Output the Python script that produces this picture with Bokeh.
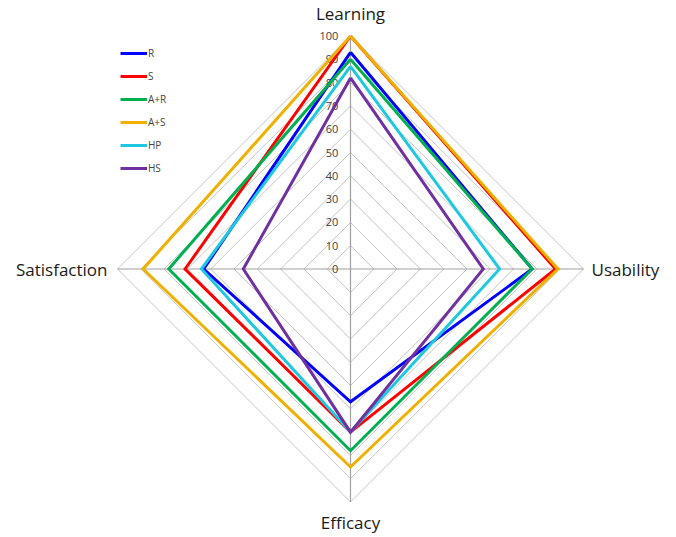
import numpy as np
from bokeh.plotting import figure
from bokeh.models import Legend, LegendItem
from bokeh.core.properties import value
from bokeh.embed import file_html
from bokeh.resources import INLINE

categories = ["Learning", "Usability", "Efficacy", "Satisfaction"]
series_names = ["R", "S", "A+R", "A+S", "HP", "HS"]
R_vals = [93, 78, 57, 63]
S_vals = [100, 88, 70, 71]
AR_vals = [90, 78, 78, 78]
AS_vals = [100, 89, 85, 89]
HP_vals = [87, 64, 70, 64]
HS_vals = [82, 57, 70, 46]
tick_values = [0, 10, 20, 30, 40, 50, 60, 70, 80, 90, 100]
colors = ["#0000ff", "#ff0000", "#00b050", "#f0b000", "#1ec8e0", "#7030a0"]

all_vals = [R_vals, S_vals, AR_vals, AS_vals, HP_vals, HS_vals]

scale = 2.33
W, H = 668, 537
cx, cy = 350, 268.5
p = figure(width=W, height=H, output_backend="svg", toolbar_location=None,
           x_range=(-cx / scale, (W - cx) / scale),
           y_range=(-(H - cy) / scale, cy / scale),
           min_border=0)
p.axis.visible = False
p.grid.visible = False
p.outline_line_color = None
p.background_fill_color = "white"

angles = np.pi / 2 - np.arange(len(categories)) * 2 * np.pi / len(categories)

def to_xy(vals):
    v = np.array(vals + vals[:1], dtype=float)
    a = np.concatenate([angles, angles[:1]])
    return v * np.cos(a), v * np.sin(a)

# rings
for t in tick_values[1:]:
    x, y = to_xy([t] * len(categories))
    p.line(x, y, line_color="#c4c4c4", line_width=1)
# spokes
for a in angles:
    p.line([0, 100 * np.cos(a)], [0, 100 * np.sin(a)], line_color="#a0a0a0", line_width=1.2)

# tick labels
p.text(x=[-5.2] * len(tick_values), y=tick_values, text=[str(t) for t in tick_values],
       text_align="right", text_baseline="middle", text_font=value("Open Sans"),
       text_font_size="11px", text_color="#404040")

items = []
for name, vals, c in zip(series_names, all_vals, colors):
    x, y = to_xy(vals)
    r = p.line(x, y, line_color=c, line_width=3, line_join="miter")
    items.append(LegendItem(label=name, renderers=[r]))

# category labels
lab_font = dict(text_font=value("Open Sans"), text_font_size="17px", text_color="#1a1a1a",
                text_baseline="middle")
p.text(x=[0], y=[(268.5 - 13) / scale], text=[categories[0]], text_align="center", **lab_font)
p.text(x=[(591 - 350) / scale], y=[0], text=[categories[1]], text_align="left", **lab_font)
p.text(x=[0], y=[(268.5 - 522) / scale], text=[categories[2]], text_align="center", **lab_font)
p.text(x=[(107 - 350) / scale], y=[0], text=[categories[3]], text_align="right", **lab_font)

legend = Legend(items=items, location=(120, H - 175), orientation="vertical",
                label_text_font="Open Sans", label_text_font_size="10px",
                glyph_width=27, glyph_height=14, label_standoff=1, spacing=9,
                label_height=14, padding=0, margin=0,
                background_fill_alpha=0, border_line_color=None)
p.add_layout(legend)

open("out.html", "w").write(file_html(p, INLINE))
